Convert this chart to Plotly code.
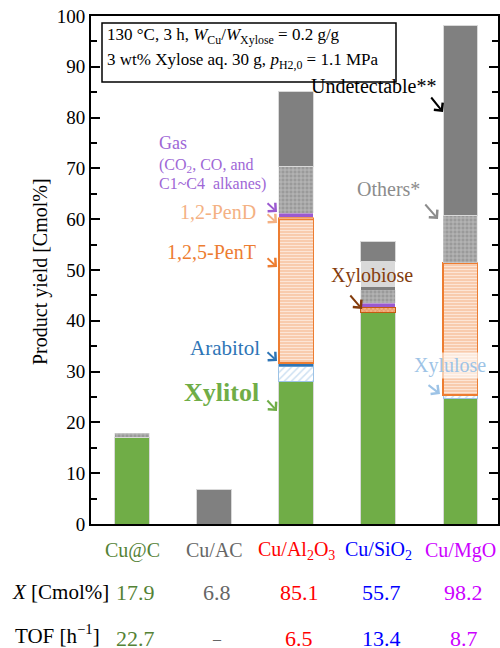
import plotly.graph_objects as go

# ---------------- data ----------------
categories = ["Cu@C", "Cu/AC", "Cu/Al2O3", "Cu/SiO2", "Cu/MgO"]
cat_labels = ["Cu@C", "Cu/AC", "Cu/Al<sub>2</sub>O<sub>3</sub>", "Cu/SiO<sub>2</sub>", "Cu/MgO"]
cat_colors = ["#548235", "#666666", "#ff0000", "#0000ff", "#cc00ff"]

xylitol     = [17.1, 0, 28.1, 41.7, 24.8]
xylulose    = [0, 0, 3.0, 0, 0.6]
arabitol    = [0, 0, 0.6, 0, 0]
pent        = [0, 0, 28.3, 0, 26.0]
pend        = [0, 0, 0.4, 0, 0]
xylobiose   = [0, 0, 0, 1.0, 0]
gas         = [0, 0, 0.8, 0.8, 0]
others      = [0.8, 0, 9.1, 2.6, 9.4]
others_band = [0, 0, 0, 0.6, 0]
light_gray  = [0, 0, 0, 4.9, 0]
undetect    = [0, 6.8, 14.8, 4.1, 37.4]

conversion = ["17.9", "6.8", "85.1", "55.7", "98.2"]
tof        = ["22.7", "–", "6.5", "13.4", "8.7"]

FONT = "Liberation Serif"

# plot area in pixels
L, R, T, B = 91, 498, 16, 524
def px(x):
    return (x - L) / (R - L)
def py(y):
    return (B - y) / (B - T)

def nz(v):
    return [None if a == 0 else a for a in v]

fig = go.Figure()

def add(vals, name, color, line_color=None, line_width=0, pattern=None):
    marker = dict(color=color, line=dict(color=line_color or color, width=line_width))
    if pattern:
        marker["pattern"] = pattern
    fig.add_trace(go.Bar(x=list(range(len(categories))), y=nz(vals), name=name,
                         width=0.42, marker=marker, hoverinfo="y+name"))

add(xylitol, "Xylitol", "#70ad47", "#d9d9d9", 1)
add(xylulose, "Xylulose", "white", "#9dc3e6", 1,
    dict(shape="/", fgcolor="#9dc3e6", size=5, solidity=0.3, fillmode="overlay"))
add(arabitol, "Arabitol", "#2e75b6", "#2e75b6", 0.5)
add(pent, "1,2,5-PenT", "#f8cbad", "#ed7d31", 1.5,
    dict(shape="-", fgcolor="white", size=3, solidity=0.35, fillmode="overlay"))
add(pend, "1,2-PenD", "#f4b183", "#ed7d31", 0.5)
add(xylobiose, "Xylobiose", "#f4b183", "#c55a11", 1,
    dict(shape="x", fgcolor="#c55a11", size=3, solidity=0.3, fillmode="overlay"))
add(gas, "Gas", "#9b59d0")
add(others, "Others", "#9a9a9a", "#d9d9d9", 0.5,
    dict(shape="+", fgcolor="#e6e6e6", size=4, solidity=0.35, fillmode="overlay"))
add(others_band, "Others (band)", "#808080")
add(light_gray, "Others (light)", "#d9d9d9")
add(undetect, "Undetectable", "#808080", "#d9d9d9", 1)

fig.update_layout(
    barmode="stack",
    width=500, height=648,
    margin=dict(l=L, r=500 - R, t=T, b=648 - B, autoexpand=False),
    plot_bgcolor="white", paper_bgcolor="white",
    showlegend=False,
    font=dict(family=FONT, size=19, color="black"),
)
fig.update_xaxes(range=[-0.5, 4.46], showticklabels=False, ticks="",
                 showline=True, linecolor="black", linewidth=2, mirror=True,
                 showgrid=False, zeroline=False, automargin=False)
fig.update_yaxes(range=[0, 100], dtick=10, ticks="inside", ticklen=9, tickwidth=1.5,
                 tickcolor="black", showline=True, linecolor="black", linewidth=2,
                 mirror="allticks", showgrid=False, zeroline=False, automargin=False,
                 tickfont=dict(family=FONT, size=19),
                 minor=dict(dtick=5, ticks="inside", ticklen=6, tickwidth=1.5, tickcolor="black"))

ann = []
def text(x, y, s, color, size, xanchor="center", bold=False, bg=None, angle=0):
    d = dict(xref="paper", yref="paper", x=px(x), y=py(y), text=("<b>%s</b>" % s) if bold else s,
             showarrow=False, xanchor=xanchor, yanchor="middle", textangle=angle,
             font=dict(family=FONT, size=size, color=color))
    if bg:
        d["bgcolor"] = bg
    ann.append(d)

def arrow(tail, head, color):
    ann.append(dict(xref="paper", yref="paper", x=px(head[0]), y=py(head[1]), text="",
                    showarrow=True, axref="pixel", ayref="pixel",
                    ax=tail[0] - head[0], ay=tail[1] - head[1],
                    arrowhead=4, arrowsize=1.1, arrowwidth=2, arrowcolor=color))

# y axis title
text(40, 271, "Product yield [Cmol%]", "black", 20, angle=-90)

# condition box
fig.add_shape(type="rect", xref="paper", yref="paper", x0=px(102), x1=px(396), y0=py(82), y1=py(23),
              line=dict(color="black", width=1.5), fillcolor="white")
text(105, 36, "130 °C, 3 h, <i>W</i><sub>Cu</sub>/<i>W</i><sub>Xylose</sub> = 0.2 g/g", "black", 17, "left")
text(105, 61, "3 wt% Xylose aq. 30 g, <i>p</i><sub>H2,0</sub> = 1.1 MPa", "black", 17, "left")

# product labels
text(374, 86, "Undetectable**", "black", 20)
arrow((430, 96), (443, 112), "black")
text(388, 189, "Others*", "#8c8c8c", 20)
arrow((424, 203), (438, 219), "#8c8c8c")
text(157, 143, "Gas", "#9e67d6", 18, "left")
text(157, 165, "(CO<sub>2</sub>, CO, and", "#9e67d6", 16, "left")
text(157, 184, "C1~C4  alkanes)", "#9e67d6", 16, "left")
arrow((266, 202), (277, 212), "#9b59d0")
text(258, 212, "1,2-PenD", "#f4b183", 20, "right")
arrow((266, 213), (277, 223), "#f4b183")
text(258, 252, "1,2,5-PenT", "#ed7d31", 20, "right")
arrow((266, 257), (277, 267), "#ed7d31")
text(372, 275, "Xylobiose", "#843c0c", 20)
arrow((349, 294), (362, 309), "#843c0c")
text(262, 348, "Arabitol", "#2e75b6", 21, "right")
arrow((266, 351), (277, 361), "#2e75b6")
text(261, 392, "Xylitol", "#70ad47", 26, "right", bold=True)
arrow((266, 399), (277, 411), "#70ad47")
text(450, 365, "Xylulose", "#9dc3e6", 20, bg="rgba(255,255,255,0.6)")
arrow((427, 384), (440, 394), "#9dc3e6")

# table under chart
for i in range(len(categories)):
    ann.append(dict(xref="x", yref="paper", x=i, y=py(550), text=cat_labels[i], showarrow=False,
                    xanchor="center", yanchor="middle",
                    font=dict(family=FONT, size=20, color=cat_colors[i])))
    ann.append(dict(xref="x", yref="paper", x=i + 0.04, y=py(592), text=conversion[i], showarrow=False,
                    xanchor="center", yanchor="middle",
                    font=dict(family=FONT, size=22, color=cat_colors[i])))
    ann.append(dict(xref="x", yref="paper", x=i + 0.04, y=py(638), text=tof[i], showarrow=False,
                    xanchor="center", yanchor="middle",
                    font=dict(family=FONT, size=22 if tof[i] != "–" else 16, color=cat_colors[i])))
text(10, 592, "<i>X</i> [Cmol%]", "black", 21, "left")
text(13, 634, "TOF [h<sup>−1</sup>]", "black", 21, "left")

fig.update_layout(annotations=ann)
fig.write_html("out.html", config={"displayModeBar": False},
               post_script="document.body.style.margin='0';document.body.style.overflow='hidden';")
